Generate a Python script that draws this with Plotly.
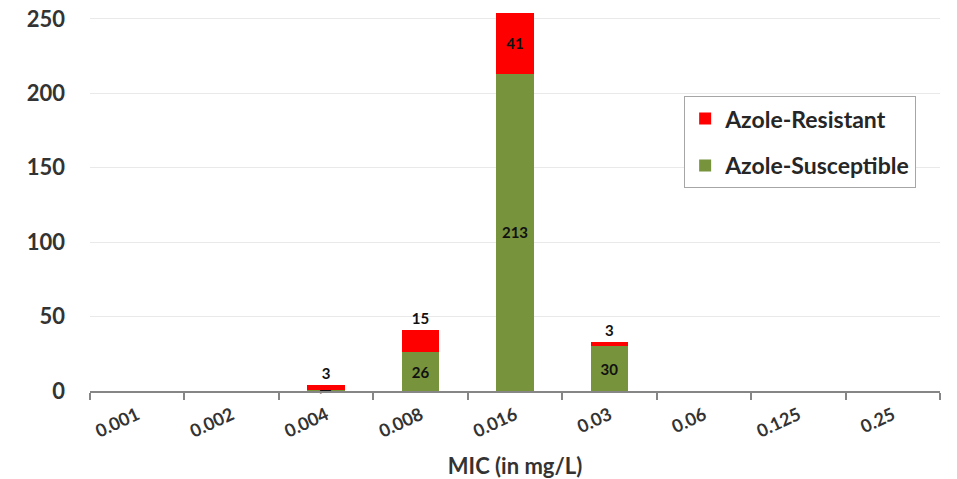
import plotly.graph_objects as go

categories = ["0.001", "0.002", "0.004", "0.008", "0.016", "0.03", "0.06", "0.125", "0.25"]
susceptible = [0, 0, 1, 26, 213, 30, 0, 0, 0]
resistant = [0, 0, 3, 15, 41, 3, 0, 0, 0]
y_ticks = [0, 50, 100, 150, 200, 250]

FONT = "Lato"

sus_text = [str(v) if v else "" for v in susceptible]
res_text = [str(v) if v else "" for v in resistant]
res_pos = ["inside" if v > 20 else "outside" for v in resistant]

fig = go.Figure()
fig.add_trace(go.Bar(
    x=categories, y=susceptible, name="Azole-Susceptible",
    marker=dict(color="#77933c", line=dict(width=0)),
    text=sus_text, textposition="inside", insidetextanchor="middle",
    constraintext="none", cliponaxis=False,
    textfont=dict(family=FONT, size=15, color="#111111", weight="bold"),
    legendgroup="s", legendrank=2,
))
fig.add_trace(go.Bar(
    x=categories, y=resistant, name="Azole-Resistant",
    marker=dict(color="#ff0000", line=dict(width=0)),
    text=res_text, textposition=res_pos, insidetextanchor="middle",
    constraintext="none", cliponaxis=False,
    textfont=dict(family=FONT, size=15, color="#111111", weight="bold"),
    legendgroup="r", legendrank=1,
))

fig.update_layout(
    width=957, height=479,
    barmode="stack", bargap=0.6,
    plot_bgcolor="white", paper_bgcolor="white",
    margin=dict(l=90, r=17, t=4, b=88, autoexpand=False),
    font=dict(family=FONT, color="#404040"),
    showlegend=True,
    legend=dict(
        x=0.699, y=0.762, xanchor="left", yanchor="top",
        bgcolor="white", bordercolor="#a6a6a6", borderwidth=1,
        font=dict(family=FONT, size=23, color="#262626", weight="bold"),
        traceorder="grouped", tracegroupgap=14,
        itemwidth=30, entrywidth=215, entrywidthmode="pixels",
    ),
    xaxis=dict(
        type="category", tickson="boundaries", ticks="outside", ticklen=7,
        tickcolor="#868686", tickwidth=1.5, showline=True, linecolor="#868686", linewidth=1.5,
        tickangle=-25, tickfont=dict(family=FONT, size=18, color="#333333", weight="bold"),
        ticklabelstandoff=5,
        title=dict(text="MIC (in mg/L)", font=dict(family=FONT, size=22, color="#333333", weight="bold"), standoff=26),
        showgrid=False, automargin=False,
    ),
    yaxis=dict(
        range=[0, 260], tickvals=y_ticks, showgrid=True, gridcolor="#e9e9e9", gridwidth=1,
        zeroline=False, showline=False, ticks="",
        tickfont=dict(family=FONT, size=22, color="#333333", weight="bold"),
        ticklabelstandoff=24, automargin=False,
    ),
)

fig.write_html("out.html", post_script="document.body.style.margin='0';",
               config={"displayModeBar": False})
